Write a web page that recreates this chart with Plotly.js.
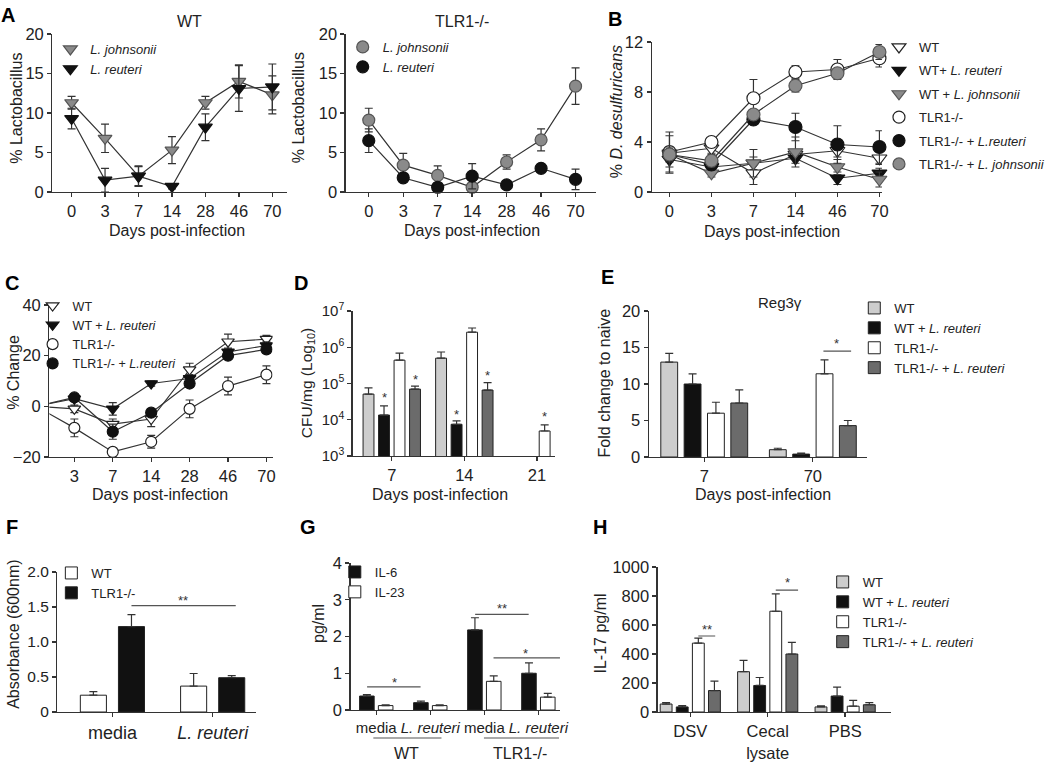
<!DOCTYPE html>
<html><head><meta charset="utf-8">
<script src="https://cdn.plot.ly/plotly-3.0.1.min.js"></script>
<style>html,body{margin:0;padding:0;background:#fff}</style>
</head><body>
<div id="chart" style="width:1050px;height:771px"></div>
<script>
// ---------------- DATA ----------------
// Panel A
const daysA = ["0","3","7","14","28","46","70"];
const wtJohnsonii = [11.3, 6.8, 2.0, 5.3, 11.3, 14.0, 12.3];
const wtJohnsoniiErr = [0.8, 1.8, 1.3, 1.7, 0.8, 2.1, 2.4];
const wtReuteri = [9.3, 1.5, 2.0, 0.7, 8.2, 13.1, 13.3];
const wtReuteriErr = [1.3, 1.5, 1.2, 0.3, 1.7, 2.9, 2.9];
const tlrJohnsonii = [9.1, 3.4, 2.1, 0.6, 3.8, 6.6, 13.4];
const tlrJohnsoniiErr = [1.5, 1.5, 1.2, 0.3, 0.9, 1.4, 2.3];
const tlrReuteri = [6.5, 1.8, 0.6, 2.0, 0.9, 3.0, 1.6];
const tlrReuteriErr = [1.5, 0.5, 0.5, 1.6, 0.5, 0.5, 1.3];
// Panel B
const daysB = ["0","3","7","14","46","70"];
const bWT = [3.1, 3.5, 1.5, 3.0, 3.3, 2.7];
const bWTErr = [0.5, 0.4, 0.9, 0.4, 0.5, 0.5];
const bWTReut = [2.6, 2.0, 2.3, 2.7, 1.1, 1.5];
const bWTReutErr = [0.6, 0.3, 0.5, 0.4, 0.5, 0.4];
const bWTJohn = [3.0, 1.5, 2.3, 3.2, 2.0, 1.0];
const bWTJohnErr = [0.5, 0.3, 1.1, 1.2, 0.6, 0.6];
const bTLR = [3.2, 4.0, 7.5, 9.6, 9.8, 10.7];
const bTLRErr = [1.6, 0.3, 1.5, 0.5, 0.8, 0.7];
const bTLRReut = [3.0, 2.2, 5.8, 5.2, 3.8, 3.6];
const bTLRReutErr = [0.6, 0.3, 0.3, 1.1, 1.5, 1.3];
const bTLRJohn = [3.0, 2.5, 6.2, 8.5, 9.5, 11.2];
const bTLRJohnErr = [1.5, 0.5, 0.4, 0.5, 0.3, 0.6];
// Panel C
const daysC = ["0","3","7","14","28","46","70"];
const cWT = [0, -1, -7, -5, 14.5, 25.5, 26.5];
const cWTErr = [0, 1.5, 2, 3, 2.5, 3, 1.5];
const cWTReut = [0, 3, -1, 9, 11, 21.5, 24];
const cWTReutErr = [0, 1, 2.5, 1, 1.5, 1.5, 1.5];
const cTLR = [0, -8.5, -18, -14, -1, 8, 12.5];
const cTLRErr = [0, 3.5, 1, 2.5, 3.5, 3.5, 3.5];
const cTLRReut = [0, 3.5, -10, -2.5, 9, 20, 22.5];
const cTLRReutErr = [0, 1, 3, 1.5, 1.5, 1.5, 1.5];
// Panel D (CFU/mg)
const daysD = ["7","14","21"];
const dWT = [5.1e4, 5.0e5, null];
const dWTErr = [2.5e4, 2.4e5, null];
const dWTReut = [1.35e4, 7.5e3, null];
const dWTReutErr = [1.05e4, 1.8e3, null];
const dTLR = [4.4e5, 2.6e6, 4.9e3];
const dTLRErr = [2.5e5, 8.0e5, 2.3e3];
const dTLRReut = [7.0e4, 6.6e4, null];
const dTLRReutErr = [1.5e4, 4.0e4, null];
const dTickVals = [1e3, 1e4, 1e5, 1e6, 1e7];
const dTickText = ["10<sup>3</sup>","10<sup>4</sup>","10<sup>5</sup>","10<sup>6</sup>","10<sup>7</sup>"];
// Panel E (Reg3g)
const daysE = ["7","70"];
const eWT = [13.0, 1.0];
const eWTErr = [1.2, 0.2];
const eWTReut = [10.0, 0.4];
const eWTReutErr = [1.4, 0.15];
const eTLR = [6.0, 11.4];
const eTLRErr = [1.5, 1.9];
const eTLRReut = [7.4, 4.3];
const eTLRReutErr = [1.8, 0.7];
// Panel F (absorbance)
const treatF = ["media", "L. reuteri"];
const treatFLabels = ["media", "<i>L. reuteri</i>"];
const fWT = [0.24, 0.37];
const fWTErr = [0.05, 0.18];
const fTLR = [1.22, 0.49];
const fTLRErr = [0.17, 0.03];
const fTickVals = [0, 0.5, 1, 1.5, 2];
const fTickText = ["0", "0.5", "1.0", "1.5", "2.0"];
// Panel G (cytokines)
const groupsG = ["WT media", "WT L. reuteri", "TLR1-/- media", "TLR1-/- L. reuteri"];
const groupsGLabels = ["media", "<i>L. reuteri</i>", "media", "<i>L. reuteri</i>"];
const gIL6 = [0.38, 0.20, 2.18, 1.00];
const gIL6Err = [0.04, 0.04, 0.33, 0.28];
const gIL23 = [0.12, 0.12, 0.78, 0.35];
const gIL23Err = [0.02, 0.02, 0.15, 0.10];
// Panel H (IL-17)
const groupsH = ["DSV", "Cecal lysate", "PBS"];
const groupsHLabels = ["DSV", "Cecal<br>lysate", "PBS"];
const hWT = [55, 278, 35];
const hWTErr = [10, 78, 8];
const hWTReut = [35, 183, 110];
const hWTReutErr = [10, 55, 62];
const hTLR = [475, 695, 40];
const hTLRErr = [35, 120, 40];
const hTLRReut = [148, 400, 50];
const hTLRReutErr = [65, 80, 15];

// ---------------- STYLE / HELPERS ----------------
const W = 1050, H = 771;
const FONT = 'Liberation Sans, Arial, Helvetica, sans-serif';
const INK = '#222';
const LINE = '#333';
const GRAY = '#8a8a8a', LIGHT = '#cdcdcd', DARK = '#6b6b6b', BLACK = '#111', WHITE = '#ffffff';
const xd = (l, r) => [l / W, r / W];
const yd = (t, b) => [1 - b / H, 1 - t / H];

function ax(extra) {
  return Object.assign({
    showgrid: false, zeroline: false, showline: true, linecolor: LINE, linewidth: 1.3,
    ticks: 'outside', ticklen: 4, tickwidth: 1.3, tickcolor: LINE,
    tickfont: {size: 16.5, color: INK, family: FONT}, fixedrange: true
  }, extra);
}
function catAx(cats, range, domain, anchor, extra) {
  return ax(Object.assign({type: 'category', categoryorder: 'array', categoryarray: cats,
    range: range, domain: domain, anchor: anchor}, extra || {}));
}

function series(xa, ya, x, y, err, sym, fill, mline, size, clip) {
  return {type: 'scatter', mode: 'lines+markers', x: x, y: y, xaxis: xa, yaxis: ya,
    showlegend: false, cliponaxis: clip, hoverinfo: 'skip',
    line: {color: LINE, width: 1.2},
    marker: {symbol: sym, size: size, color: fill, line: {color: mline, width: 1.2}},
    error_y: {type: 'data', array: err, color: LINE, thickness: 1.2, width: 4}};
}
function legItem(xa, ya, name, sym, fill, mline, size, leg, grp) {
  return {type: 'scatter', mode: 'markers', x: [null], y: [null], xaxis: xa, yaxis: ya,
    name: name, legend: leg, legendgroup: grp, showlegend: true, hoverinfo: 'skip',
    marker: {symbol: sym, size: size, color: fill, line: {color: mline, width: 1.2}}};
}
function bar(xa, ya, x, y, err, fill, k, n, step, bw, name, leg) {
  return {type: 'bar', x: x, y: y, xaxis: xa, yaxis: ya, width: bw,
    offset: (k - (n - 1) / 2) * step - bw / 2, hoverinfo: 'skip',
    marker: {color: fill, line: {color: '#222', width: 1}},
    error_y: {type: 'data', symmetric: false, array: err, arrayminus: err.map(() => 0),
      color: LINE, thickness: 1.2, width: 4},
    name: name, legend: leg, showlegend: !!leg};
}
function legend(xpx, ypx, extra) {
  return Object.assign({x: xpx / W, y: 1 - ypx / H, xanchor: 'left', yanchor: 'top',
    bgcolor: 'rgba(0,0,0,0)', borderwidth: 0, itemwidth: 30,
    font: {size: 13, color: INK, family: FONT}}, extra || {});
}
function pa(xpx, ypx, text, opts) {
  return Object.assign({xref: 'paper', yref: 'paper', x: xpx / W, y: 1 - ypx / H, text: text,
    showarrow: false, xanchor: 'center', yanchor: 'middle',
    font: {size: 16, color: INK, family: FONT}}, opts || {});
}
function star(xa, ya, x, y, text) {
  return {xref: xa, yref: ya, x: x, y: y, text: text, showarrow: false,
    xanchor: 'center', yanchor: 'middle', font: {size: 13, color: '#333', family: FONT}};
}
function sigLine(xa, ya, x0, x1, y) {
  return {type: 'line', xref: xa, yref: ya, x0: x0, x1: x1, y0: y, y1: y,
    line: {color: '#555', width: 1.2}};
}

// ---------------- TRACES ----------------
const traces = [];
// A - WT
traces.push(series('x', 'y', daysA, wtJohnsonii, wtJohnsoniiErr, 'triangle-down', GRAY, '#555', 12, false));
traces.push(series('x', 'y', daysA, wtReuteri, wtReuteriErr, 'triangle-down', BLACK, BLACK, 12, false));
traces.push(legItem('x', 'y', '<i>L. johnsonii</i>', 'triangle-down', GRAY, '#555', 12, 'legend'));
traces.push(legItem('x', 'y', '<i>L. reuteri</i>', 'triangle-down', BLACK, BLACK, 12, 'legend'));
// A - TLR1
traces.push(series('x2', 'y2', daysA, tlrJohnsonii, tlrJohnsoniiErr, 'circle', GRAY, '#555', 12, false));
traces.push(series('x2', 'y2', daysA, tlrReuteri, tlrReuteriErr, 'circle', BLACK, BLACK, 12, false));
traces.push(legItem('x2', 'y2', '<i>L. johnsonii</i>', 'circle', GRAY, '#555', 12, 'legend2'));
traces.push(legItem('x2', 'y2', '<i>L. reuteri</i>', 'circle', BLACK, BLACK, 12, 'legend2'));
// B
const bSpecs = [
  [bWT, bWTErr, 'triangle-down', WHITE, '#222', 'WT'],
  [bWTReut, bWTReutErr, 'triangle-down', BLACK, BLACK, 'WT+ <i>L. reuteri</i>'],
  [bWTJohn, bWTJohnErr, 'triangle-down', GRAY, '#555', 'WT + <i>L. johnsonii</i>'],
  [bTLR, bTLRErr, 'circle', WHITE, '#222', 'TLR1-/-'],
  [bTLRReut, bTLRReutErr, 'circle', BLACK, BLACK, 'TLR1-/- + <i>L.reuteri</i>'],
  [bTLRJohn, bTLRJohnErr, 'circle', GRAY, '#555', 'TLR1-/- + <i>L. johnsonii</i>']
];
bSpecs.forEach(s => traces.push(series('x3', 'y3', daysB, s[0], s[1], s[2], s[3], s[4], 13, false)));
bSpecs.forEach((s, i) => traces.push(legItem('x3', 'y3', s[5], s[2], s[3], s[4], 12, 'legend3', 'b' + i)));
// C
const cSpecs = [
  [cWT, cWTErr, 'triangle-down', WHITE, '#222', 'WT'],
  [cWTReut, cWTReutErr, 'triangle-down', BLACK, BLACK, 'WT + <i>L. reuteri</i>'],
  [cTLR, cTLRErr, 'circle', WHITE, '#222', 'TLR1-/-'],
  [cTLRReut, cTLRReutErr, 'circle', BLACK, BLACK, 'TLR1-/- + <i>L.reuteri</i>']
];
cSpecs.forEach(s => traces.push(series('x4', 'y4', daysC, s[0], s[1], s[2], s[3], s[4], 11, true)));
cSpecs.forEach(s => traces.push(legItem('x4', 'y4', s[5], s[2], s[3], s[4], 11, 'legend4')));
// D
const dStep = 0.2136, dW = 0.15;
traces.push(bar('x5', 'y5', daysD, dWT, dWTErr, LIGHT, 0, 4, dStep, dW));
traces.push(bar('x5', 'y5', daysD, dWTReut, dWTReutErr, BLACK, 1, 4, dStep, dW));
traces.push(bar('x5', 'y5', daysD, dTLR, dTLRErr, WHITE, 2, 4, dStep, dW));
traces.push(bar('x5', 'y5', daysD, dTLRReut, dTLRReutErr, DARK, 3, 4, dStep, dW));
// E
const eStep = 0.215, eW = 0.155;
traces.push(bar('x6', 'y6', daysE, eWT, eWTErr, LIGHT, 0, 4, eStep, eW, 'WT', 'legend5'));
traces.push(bar('x6', 'y6', daysE, eWTReut, eWTReutErr, BLACK, 1, 4, eStep, eW, 'WT + <i>L. reuteri</i>', 'legend5'));
traces.push(bar('x6', 'y6', daysE, eTLR, eTLRErr, WHITE, 2, 4, eStep, eW, 'TLR1-/-', 'legend5'));
traces.push(bar('x6', 'y6', daysE, eTLRReut, eTLRReutErr, DARK, 3, 4, eStep, eW, 'TLR1-/- + <i>L. reuteri</i>', 'legend5'));
// F
const fStep = 0.38, fW = 0.26;
traces.push(bar('x7', 'y7', treatF, fWT, fWTErr, WHITE, 0, 2, fStep, fW, 'WT', 'legend6'));
traces.push(bar('x7', 'y7', treatF, fTLR, fTLRErr, BLACK, 1, 2, fStep, fW, 'TLR1-/-', 'legend6'));
// G
const gStep = 0.348, gW = 0.27;
traces.push(bar('x8', 'y8', groupsG, gIL6, gIL6Err, BLACK, 0, 2, gStep, gW, 'IL-6', 'legend7'));
traces.push(bar('x8', 'y8', groupsG, gIL23, gIL23Err, WHITE, 1, 2, gStep, gW, 'IL-23', 'legend7'));
// H
const hStep = 0.208, hW = 0.153;
traces.push(bar('x9', 'y9', groupsH, hWT, hWTErr, LIGHT, 0, 4, hStep, hW, 'WT', 'legend8'));
traces.push(bar('x9', 'y9', groupsH, hWTReut, hWTReutErr, BLACK, 1, 4, hStep, hW, 'WT + <i>L. reuteri</i>', 'legend8'));
traces.push(bar('x9', 'y9', groupsH, hTLR, hTLRErr, WHITE, 2, 4, hStep, hW, 'TLR1-/-', 'legend8'));
traces.push(bar('x9', 'y9', groupsH, hTLRReut, hTLRReutErr, DARK, 3, 4, hStep, hW, 'TLR1-/- + <i>L. reuteri</i>', 'legend8'));

// ---------------- LAYOUT ----------------
const BOLD = {size: 20, color: '#000', family: FONT};
const annotations = [
  pa(8, 15, '<b>A</b>', {font: BOLD}),
  pa(623, 19, '<b>B</b>', {font: BOLD}),
  pa(12, 283, '<b>C</b>', {font: BOLD}),
  pa(305, 283, '<b>D</b>', {font: BOLD}),
  pa(615, 277, '<b>E</b>', {font: BOLD}),
  pa(12, 527, '<b>F</b>', {font: BOLD}),
  pa(312, 527, '<b>G</b>', {font: BOLD}),
  pa(608, 527, '<b>H</b>', {font: BOLD}),
  pa(192, 21, 'WT'),
  pa(468, 21, 'TLR1-/-'),
  pa(790, 303, 'Reg3γ', {font: {size: 15, color: INK, family: FONT}}),
  // axis titles
  pa(17, 108, '% Lactobacillus', {textangle: -90}),
  pa(179, 230, 'Days post-infection'),
  pa(303, 108, '% Lactobacillus', {textangle: -90}),
  pa(478, 230, 'Days post-infection'),
  pa(624, 112, '% <i>D. desulfuricans</i>', {textangle: -90}),
  pa(782, 231, 'Days post-infection'),
  pa(13, 372, '% Change', {textangle: -90}),
  pa(162, 494, 'Days post-infection'),
  pa(311, 383, 'CFU/mg (Log<sub>10</sub>)', {textangle: -90, font: {size: 15.5, color: INK, family: FONT}}),
  pa(446, 494, 'Days post-infection'),
  pa(612, 383, 'Fold change to naive', {textangle: -90}),
  pa(773, 494, 'Days post-infection'),
  pa(13, 634, 'Absorbance (600nm)', {textangle: -90}),
  pa(322, 624, 'pg/ml', {textangle: -90}),
  pa(608, 633, 'IL-17 pg/ml', {textangle: -90}),
  pa(412, 753, 'WT'),
  pa(527, 753, 'TLR1-/-'),
  // significance
  star('x2', 'y2', '28', 2.3, '**'),
  star('x2', 'y2', '46', 4.6, '**'),
  star('x2', 'y2', '70', 3.4, '**'),
  star('x3', 'y3', '14', 6.1, '*'),
  star('x5', 'y5', 0 - 0.5 * dStep, 4.62, '*'),
  star('x5', 'y5', 0 + 1.5 * dStep, 5.12, '*'),
  star('x5', 'y5', 1 - 0.5 * dStep, 4.14, '*'),
  star('x5', 'y5', 1 + 1.5 * dStep, 5.22, '*'),
  star('x5', 'y5', 2 + 0.5 * dStep, 4.1, '*'),
  star('x6', 'y6', 1 + 1.0 * eStep, 15.5, '*'),
  star('x7', 'y7', 0.7, 1.6, '**'),
  star('x8', 'y8', 0.33, 0.76, '*'),
  star('x8', 'y8', 2.33, 2.75, '**'),
  star('x8', 'y8', 2.76, 1.55, '*'),
  star('x9', 'y9', 0.21, 570, '**'),
  star('x9', 'y9', 1.26, 890, '*')
];
const shapes = [
  sigLine('x6', 'y6', 1 + 0.5 * eStep - 0.01, 1 + 1.5 * eStep + 0.03, 14.5),
  sigLine('x7', 'y7', 0.19, 1.23, 1.52),
  sigLine('x8', 'y8', -0.17, 0.82, 0.63),
  sigLine('x8', 'y8', 1.83, 2.82, 2.6),
  sigLine('x8', 'y8', 2.17, 3.4, 1.42),
  sigLine('x9', 'y9', 0.5 * hStep, 1.5 * hStep + 0.01, 524),
  sigLine('x9', 'y9', 1 + 0.5 * hStep, 1 + 1.5 * hStep + 0.08, 840),
  {type: 'line', xref: 'paper', yref: 'paper', x0: 378 / W, x1: 447 / W, y0: 1 - 738 / H, y1: 1 - 738 / H, line: {color: '#555', width: 1.2}},
  {type: 'line', xref: 'paper', yref: 'paper', x0: 490 / W, x1: 566 / W, y0: 1 - 738 / H, y1: 1 - 738 / H, line: {color: '#555', width: 1.2}}
];

const layout = {
  width: W, height: H, margin: {l: 0, r: 0, t: 0, b: 0}, paper_bgcolor: '#fff', plot_bgcolor: 'rgba(0,0,0,0)',
  font: {family: FONT, color: INK}, showlegend: true, barmode: 'group', hovermode: false,
  xaxis: catAx(daysA, [-0.575, 6.45], xd(53, 291), 'y'),
  yaxis: ax({domain: yd(34, 192), anchor: 'x', range: [0, 20], tickvals: [0, 5, 10, 15, 20]}),
  xaxis2: catAx(daysA, [-0.67, 6.58], xd(350, 603), 'y2'),
  yaxis2: ax({domain: yd(34, 192), anchor: 'x2', range: [0, 20], tickvals: [0, 5, 10, 15, 20]}),
  xaxis3: catAx(daysB, [-0.42, 5.06], xd(660, 893), 'y3'),
  yaxis3: ax({domain: yd(42, 192), anchor: 'x3', range: [0, 12], tickvals: [0, 4, 8, 12]}),
  xaxis4: catAx(daysC, [0.35, 6.16], xd(50, 276), 'y4'),
  yaxis4: ax({domain: yd(305, 457), anchor: 'x4', range: [-20, 40], tickvals: [-20, 0, 20, 40]}),
  xaxis5: catAx(daysD, [-0.54, 2.25], xd(357, 562), 'y5'),
  yaxis5: ax({domain: yd(311, 456), anchor: 'x5', type: 'log', range: [3, 7], tickvals: dTickVals, ticktext: dTickText,
    tickfont: {size: 15, color: INK, family: FONT}}),
  xaxis6: catAx(daysE, [-0.51, 1.5], xd(657, 878), 'y6'),
  yaxis6: ax({domain: yd(311, 457), anchor: 'x6', range: [0, 20], tickvals: [0, 5, 10, 15, 20]}),
  xaxis7: catAx(treatF, [-0.55, 1.43], xd(58, 259), 'y7', {tickvals: treatF, ticktext: treatFLabels, tickfont: {size: 18, color: INK, family: FONT}}),
  yaxis7: ax({domain: yd(572, 712), anchor: 'x7', range: [0, 2], tickvals: fTickVals, ticktext: fTickText,
    tickfont: {size: 15.5, color: INK, family: FONT}}),
  xaxis8: catAx(groupsG, [-0.475, 3.4], xd(355, 567), 'y8', {tickvals: groupsG, ticktext: groupsGLabels, tickfont: {size: 15, color: INK, family: FONT}}),
  yaxis8: ax({domain: yd(563, 710), anchor: 'x8', range: [0, 4], tickvals: [0, 1, 2, 3, 4]}),
  xaxis9: catAx(groupsH, [-0.42, 2.59], xd(666, 902), 'y9', {tickvals: groupsH, ticktext: groupsHLabels}),
  yaxis9: ax({domain: yd(567, 712), anchor: 'x9', range: [0, 1000], tickvals: [0, 200, 400, 600, 800, 1000]}),
  legend: legend(51, 34),
  legend2: legend(347, 32),
  legend3: legend(890, 32, {tracegroupgap: 3.5}),
  legend4: legend(33, 291, {font: {size: 12.5, color: INK, family: FONT}}),
  legend5: legend(865, 293),
  legend6: legend(52, 558),
  legend7: legend(339, 557),
  legend8: legend(833, 567),
  annotations: annotations,
  shapes: shapes
};

Plotly.newPlot('chart', traces, layout, {displayModeBar: false, staticPlot: true});
</script></body></html>
